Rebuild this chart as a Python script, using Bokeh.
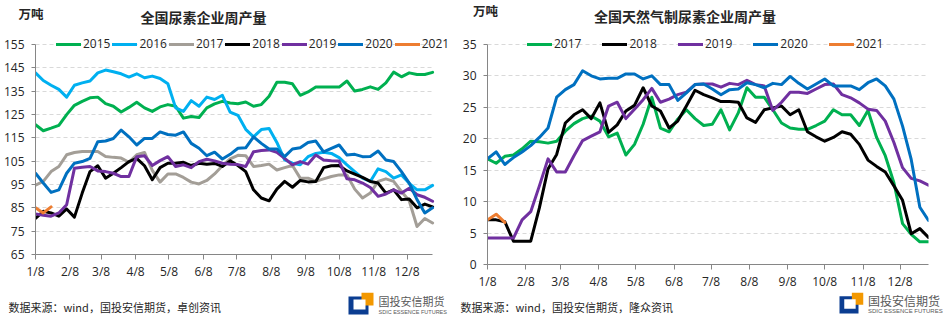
import pandas as pd
from bokeh.plotting import figure
from bokeh.models import Range1d, FixedTicker, Label, Legend, LegendItem, BoxAnnotation
from bokeh.layouts import row, column
from bokeh.embed import file_html
from bokeh.resources import INLINE

# ---------------- data ----------------
week_dates = pd.date_range("2021-01-08", periods=52, freq="7D")
tick_dates = [pd.Timestamp(2021, m, 8) for m in range(1, 13)]
tick_labels = ["1/8", "2/8", "3/8", "4/8", "5/8", "6/8", "7/8", "8/8", "9/8", "10/8", "11/8", "12/8"]

# 全国尿素企业周产量 (万吨)
urea_years = ["2015", "2016", "2017", "2018", "2019", "2020", "2021"]
urea_2015 = [120.6,118,119.1,120.3,124.9,128.9,130.6,132.1,132.4,129.6,128.5,126,128,130.2,127.8,126.3,128.2,129.2,128.5,123.4,124.1,123.7,127.8,129.5,130.6,129.9,129.6,130.3,128.5,129.2,132.8,138.8,138.8,138.1,133.2,134.6,136.7,136.7,136.7,136.7,139.3,135,135.7,136.8,135.7,138.5,143.1,141.1,142.8,142.1,142.1,143]
urea_2016 = [142.8,139.5,137.5,135.7,132.4,137.5,138.5,139.3,142.8,144,143.3,142.4,141,142.4,140.7,141.4,140.4,138.1,127.8,126.3,130.9,128.5,132.4,131.4,133.2,126,124.6,118.6,115.4,118.5,119,113,105.5,104.1,103.4,106.9,108.3,108.8,108.3,106.5,103.4,100.5,97.7,96.3,101.7,100.5,97.7,99.1,95.5,92.7,92.7,94.6]
urea_2017 = [94.7,96.3,100.5,102.7,107.7,108.7,109.1,109.1,109.1,107,106.6,106.3,104.5,107.7,108.7,101,96,99.5,99.5,98,96,95.2,96.7,99.5,103,106,107.5,107.3,102.7,103.1,103.7,101.2,102.2,103.1,97.7,97.7,96.3,97.4,98.4,99.1,99.1,93,89.2,91.3,96.3,97.4,96.3,92,88,77,80.4,78.5]
urea_2018 = [80.5,83.5,82.8,81.4,84.5,81,91.3,100.5,103,97.7,99.8,102.2,104.8,106.2,103,97,102.2,104.1,104.1,104.5,103.1,104.1,103.7,104,102.7,105.1,103.1,100.5,92.7,89.2,88,93,96.3,93.8,96.7,96.1,96.3,102.2,103,103.1,100.8,99.4,98,96.3,95.6,91.3,92.7,88.5,88.8,85,86.6,85.4]
urea_2019 = [82.4,81.8,81.4,82.8,86.3,101.9,102.4,102.7,100.8,100.5,99.8,98.4,98.4,106.9,107.3,103.1,105.2,106.9,102.7,103.4,102.2,104.8,105.8,105.1,104.1,103.7,103.5,102.7,109,109.5,109.8,108.8,106.2,103.4,104.8,103.7,107.6,105.5,105.2,105,97.4,97,95.6,93.7,89.9,90.9,92.7,91.3,93.4,90.6,89.5,87.8]
urea_2020 = [99.8,95.6,91.6,92.7,99.8,104.1,104.8,106.2,113.3,113.6,114.7,118.3,115.4,111.9,114.7,114.7,117.5,116.4,116.1,117.5,112.6,110.5,107.3,108.8,105.9,107.9,110.5,110.7,115.4,112.6,110.2,110.2,106.9,110.2,110.7,113,113.6,109,110.5,111.9,107.6,107.9,106.9,107,109.3,105.5,104.8,100.5,95.6,88.5,82.8,85]
urea_2021 = [85, 82.8, 85.4]
urea_ticks = [65, 75, 85, 95, 105, 115, 125, 135, 145, 155]
urea_colors = ["#00B050", "#00B0F0", "#A39E97", "#000000", "#7030A0", "#0070C0", "#ED7D31"]

# 全国天然气制尿素企业周产量 (万吨)
gas_years = ["2017", "2018", "2019", "2020", "2021"]
gas_2017 = [16.8,16.1,17.2,17.4,18.4,19.6,19.5,19.3,19.6,21.2,22.4,23.2,23.6,22.8,20.3,20.9,17.4,19.1,22.3,26.6,21.7,21.1,23.1,24.6,23.2,22.1,22.3,24.6,21.4,24.1,28.1,26.6,26.6,24.6,22.5,21.7,21.5,21.5,22.1,22.8,24.6,23.8,23.8,22.1,24.5,20.2,17.3,13,6.5,4.8,3.6,3.6]
gas_2018 = [7.1,7.1,6.8,3.7,3.7,3.7,9,15.2,17.5,22.5,23.8,24.6,23.2,25.7,21,22.2,24.4,25.3,28.1,25.2,24.4,21.7,22.8,25.2,27.7,27,26.5,25.9,25.9,25.8,23.3,22.6,24.6,24.9,25.2,23.8,24.6,21.1,20.3,19.6,20.2,21.1,20.7,19.1,16.6,15.6,14.7,12.5,10.2,4.9,5.7,4.3]
gas_2019 = [4.2,4.2,4.2,4.2,7.1,8.4,12.5,16.8,14.7,14.7,17.3,19.7,20.4,21.1,25.2,25.8,23.2,24.7,26.2,28,25.8,26.3,27,27.4,28.6,28.7,28.7,28.2,28.8,28.6,29.3,28.6,28.4,24.5,25.8,27.4,27.4,27.2,27.9,28.6,28.7,27,26.5,25.7,24.7,24.5,22.8,19.4,15.4,13.7,13.3,12.6]
gas_2020 = [16.8,17.9,15.9,17,17.9,18.9,20.2,21.7,26.6,27.8,28.6,30.8,30,29.5,29.6,29.6,30.3,30.3,29.5,30,28.6,28.6,26.1,27.3,28.6,28.7,27.9,27,27.8,27.9,28.9,28.6,28.1,28.8,28.6,29.9,28.8,27.9,28.7,29.5,28.4,28.4,28.4,27.8,28.9,29.5,28.4,26.3,22,16.7,9.1,7]
gas_2021 = [7.1, 8, 6.7]
gas_ticks = [0, 5, 10, 15, 20, 25, 30, 35]
gas_colors = ["#00B050", "#000000", "#7030A0", "#0070C0", "#ED7D31"]

# ---------------- helpers ----------------
base = pd.Timestamp("2021-01-01")
xs = [(d - base).days for d in week_dates]
xticks = [(d - base).days for d in tick_dates]

CJK = "Noto Sans CJK SC"
NUM = "Open Sans"
TXT = "#262626"
AX = "#868686"
W, H = 948, 323
HEAD = 28       # header strip height
FOOT_TOP = 292  # footer strip starts here
BB = 26         # bottom border of chart figures


def make_fig(width, bl, br, frame_bottom, y0, y1, yticks, axis_px, extra_right_px):
    frame_h = frame_bottom - HEAD
    top_pad = 44 - HEAD
    y_top = y1 + top_pad * (y1 - y0) / (frame_h - top_pad)
    x_end = xs[-1] + extra_right_px * (xs[-1] - xs[0]) / axis_px
    p = figure(width=width, height=frame_bottom - HEAD + BB, output_backend="svg",
               toolbar_location=None,
               x_range=Range1d(xs[0], x_end), y_range=Range1d(y0, y_top),
               min_border_left=bl, min_border_right=br, min_border_top=0, min_border_bottom=BB)
    p.outline_line_color = None
    p.xgrid.visible = False
    p.ygrid.grid_line_color = "#D9D9D9"
    p.ygrid.grid_line_dash = "4 3"
    p.ygrid.grid_line_width = 1
    try:
        p.ygrid.cross_bounds = (xs[0], xs[-1])
    except Exception:
        pass
    p.yaxis.ticker = FixedTicker(ticks=yticks)
    p.yaxis.bounds = (y0, y1)
    p.xaxis.bounds = (xs[0], xs[-1])
    p.xaxis.ticker = FixedTicker(ticks=xticks)
    p.xaxis.major_label_overrides = {t: l for t, l in zip(xticks, tick_labels)}
    for ax in (p.xaxis[0], p.yaxis[0]):
        ax.axis_line_color = AX
        ax.major_tick_line_color = AX
        ax.minor_tick_line_color = None
        ax.major_tick_in = 0
        ax.major_label_text_font = NUM
        ax.major_label_text_font_size = "12px"
        ax.major_label_text_color = TXT
    p.xaxis.major_tick_out = 5
    p.xaxis.major_label_standoff = 3
    p.yaxis.major_tick_out = 4
    p.yaxis.major_label_standoff = 7
    return p


def add_lines(p, years, series, cols):
    items = []
    for y, vals, c in zip(years, series, cols):
        r = p.line(xs[:len(vals)], vals, line_color=c, line_width=3,
                   line_join="round", line_cap="round")
        items.append(LegendItem(label=y, renderers=[r]))
    return items


def add_legend(p, items, x, y, spacing):
    lg = Legend(items=items, orientation="horizontal", location=(x, y),
                padding=0, margin=0, spacing=spacing, glyph_width=25, glyph_height=16,
                label_height=16, label_standoff=2, label_text_font=NUM,
                label_text_font_size="12px", label_text_color=TXT,
                background_fill_alpha=0, border_line_alpha=0)
    p.add_layout(lg)


def strip(height, y_top_page):
    p = figure(width=W, height=height, output_backend="svg", toolbar_location=None,
               x_range=Range1d(0, W), y_range=Range1d(y_top_page + height, y_top_page),
               min_border=0, x_axis_location=None, y_axis_location=None)
    p.outline_line_color = None
    p.grid.visible = False
    return p


def add_text(p, text, x, y, size, bold=False, align="left", color=TXT, font=CJK):
    p.add_layout(Label(x=x, y=y, text=text, text_font=font, text_font_size=size,
                       text_font_style="bold" if bold else "normal",
                       text_align=align, text_baseline="middle", text_color=color))


def box(p, l, r, t, b, c):
    p.add_layout(BoxAnnotation(left=l, right=r, top=t, bottom=b, fill_color=c,
                               fill_alpha=1, line_alpha=0))


def add_logo(p, x, y, s, txt_size, sub_size):
    box(p, x, x + 20 * s, y + 4 * s, y + 22 * s, "#0B3D91")
    box(p, x + 13 * s, x + 25 * s, y, y + 13 * s, "#F39800")
    box(p, x + 5 * s, x + 17 * s, y + 7 * s, y + 17 * s, "white")
    add_text(p, "国投安信期货", x + 30 * s, y + 8 * s, txt_size, color="#595959")
    add_text(p, "SDIC ESSENCE FUTURES", x + 30 * s, y + 19 * s, sub_size, color="#595959",
             font="Liberation Sans")


# ---------------- header ----------------
head = strip(HEAD, 0)
add_text(head, "全国尿素企业周产量", 203, 16, "14px", bold=True, align="center")
add_text(head, "万吨", 30.5, 13, "12.5px", bold=True, align="center")
add_text(head, "全国天然气制尿素企业周产量", 684.5, 15, "14px", bold=True, align="center")
add_text(head, "万吨", 485, 10, "12.5px", bold=True, align="center")

# ---------------- left chart ----------------
# axis: x 33..432, frame extended to 452 so the legend fits; y 28..256 (155 at y=44)
pl = make_fig(458, 33, 6, 256, 65, 155, urea_ticks, 399, 20)
items_l = add_lines(pl, urea_years, [urea_2015, urea_2016, urea_2017, urea_2018, urea_2019, urea_2020, urea_2021], urea_colors)
add_legend(pl, items_l, 21, 256 - 54, 2)

# ---------------- right chart ----------------
# axis: x 487..928; y 28..266 (35 at y=44)
pr = make_fig(490, 29, 20, 266, 0, 35, gas_ticks, 441, 0)
items_r = add_lines(pr, gas_years, [gas_2017, gas_2018, gas_2019, gas_2020, gas_2021], gas_colors)
add_legend(pr, items_r, 40, 266 - 54, 21)

# ---------------- footer ----------------
foot = strip(H - FOOT_TOP, FOOT_TOP)
add_text(foot, "数据来源：wind，国投安信期货，卓创资讯", 8, 306, "11px")
add_text(foot, "数据来源：wind，国投安信期货，隆众资讯", 460, 306.5, "11px")
add_logo(foot, 348, 292, 1.0, "11px", "5.5px")
add_logo(foot, 839, 292, 0.95, "12px", "6px")

layout = column(head, row(pl, pr), foot)
open("out.html", "w").write(file_html(layout, INLINE))
